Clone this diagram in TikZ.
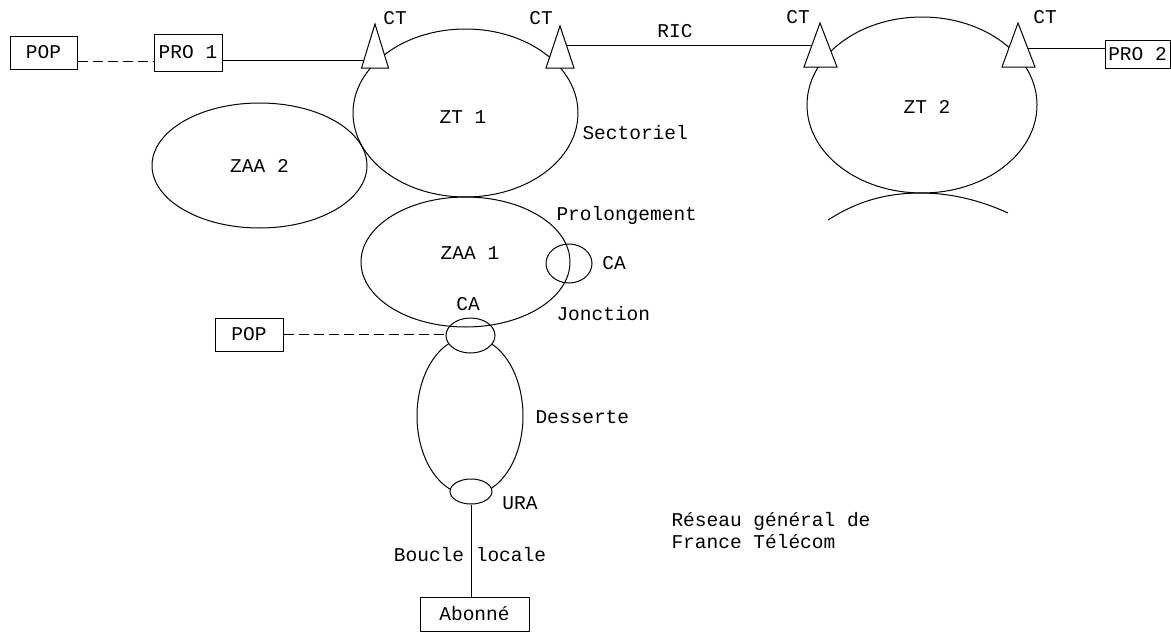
\documentclass[tikz,border=0pt]{standalone}
\usepackage{fontspec}
\setmonofont{Liberation Mono}
\usetikzlibrary{shapes.geometric,calc}
\begin{document}
\begin{tikzpicture}[x=1pt,y=-1pt,line width=1pt,
  every node/.style={font=\ttfamily\fontsize{19.5}{22}\selectfont,inner sep=0pt},
  box/.style={draw,fill=white,inner sep=0pt},
  zone/.style={draw,ellipse,inner sep=0pt},
  wzone/.style={zone,fill=white},
  tri/.style={draw,fill=white,line join=miter},
  dashline/.style={dash pattern=on 10pt off 5pt}]
\useasboundingbox (0,0) rectangle (1171,632);

% zones
\node[zone,minimum width=215pt,minimum height=125pt] (zaa2) at (259.5,165.5) {ZAA 2};
\node[zone,minimum width=225pt,minimum height=168pt] (zt1) at (465.5,113) {};
\node[zone,minimum width=230pt,minimum height=176pt] (zt2) at (922,105) {};
\node[zone,minimum width=106pt,minimum height=158pt] (desserte) at (470,416) {};
\node[wzone,minimum width=49pt,minimum height=35pt] (ca2) at (470.5,335.5) {};
\node[wzone,minimum width=42pt,minimum height=25pt] (ura) at (471,491.5) {};
\node[zone,minimum width=209pt,minimum height=130pt] (zaa1) at (465.5,262) {};
\node[zone,minimum width=46pt,minimum height=39pt] (ca1) at (569,263.5) {};
\draw (828,220) .. controls (862,198) and (893,193) .. (921,193)
      .. controls (952,193) and (982,201) .. (1008,213);

% boxes
\node[box,minimum width=67pt,minimum height=33pt] (pop1) at (43.5,52.5) {POP};
\node[box,minimum width=68pt,minimum height=37pt] (pro1) at (188,52.5) {PRO 1};
\node[box,minimum width=65pt,minimum height=28pt] (pro2) at (1137.5,54) {PRO 2};
\node[box,minimum width=68pt,minimum height=33pt] (pop2) at (249,334.5) {POP};
\node[box,minimum width=109pt,minimum height=34pt] (abonne) at (474.5,614) {Abonné};

% connector end points at the triangles
\coordinate (t1in) at (372,60);
\coordinate (t2out) at (560,45);
\coordinate (t3in) at (818,45);
\coordinate (t4out) at (1020,48);

% connectors
\draw[dashline] ([yshift=-8.5pt]pop1.east) -- ([yshift=-8.5pt]pro1.west);
\draw ([yshift=-7.5pt]pro1.east) -- (t1in);
\draw (t2out) -- (t3in);
\draw (t4out) -- ([yshift=6pt]pro2.west);
\draw[dashline] (pop2.east) -- (pop2.east -| ca2.west);
\draw (ura.south) -- (ura.south |- abonne.north);

% CT triangles
\coordinate (t1) at (375,24);
\coordinate (t2) at (560,26);
\coordinate (t3) at (820,23);
\coordinate (t4) at (1018,23);
\draw[tri] (t1) -- ++(13.5,44) -- ++(-27,0) -- cycle;
\draw[tri] (t2) -- ++(14,42) -- ++(-28,0) -- cycle;
\draw[tri] (t3) -- ++(17,44) -- ++(-33,0) -- cycle;
\draw[tri] (t4) -- ++(17,44) -- ++(-33,0) -- cycle;

% labels
\node (ct1) at (395,18) {CT};
\node (ct2) at (541,18) {CT};
\node (ct3) at (798,17) {CT};
\node (ct4) at (1045,17) {CT};
\node (ric) at (675,31) {RIC};
\node (zt1t) at (463,117) {ZT 1};
\node (zt2t) at (927,107) {ZT 2};
\node (zaa1t) at (470,253) {ZAA 1};
\node[anchor=west] (sect) at (582,133) {Sectoriel};
\node[anchor=west] (prol) at (556,215) {Prolongement};
\node (ca1t) at (614,263) {CA};
\node[anchor=west] (jonc) at (556,314) {Jonction};
\node (ca2t) at (468,304) {CA};
\node[anchor=west] (dess) at (535,417) {Desserte};
\node (urat) at (520,503) {URA};
\node (boucle) at (470,555) {Boucle locale};
\node[anchor=west,align=left] (reseau) at (671,531) {Réseau général de\\France Télécom};
\end{tikzpicture}
\end{document}
